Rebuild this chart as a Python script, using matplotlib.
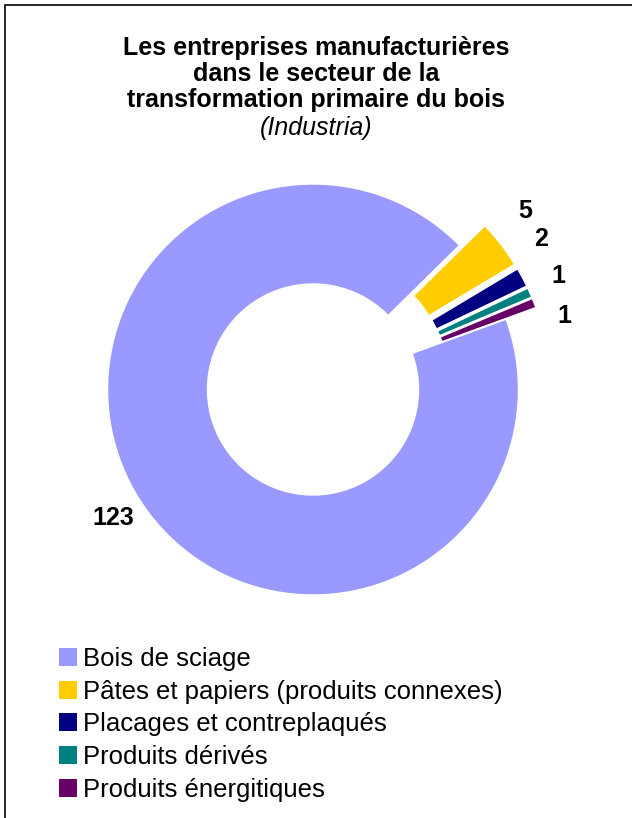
import matplotlib
matplotlib.use("Agg")
import matplotlib.pyplot as plt
from matplotlib.patches import Rectangle

plt.rcParams['font.family'] = ['Liberation Sans', 'DejaVu Sans']

categories = ["Bois de sciage", "Pâtes et papiers (produits connexes)",
              "Placages et contreplaqués", "Produits dérivés", "Produits énergitiques"]
counts = [123, 5, 2, 1, 1]
colors = ["#9999FF", "#FFCC00", "#000080", "#008080", "#660066"]

W, H = 632, 818
fig = plt.figure(figsize=(W / 100, H / 100), dpi=100)
ax = fig.add_axes([0, 0, 1, 1])

# donut in pixel units (y up); explode offsets are in data units here
cx, cy, R = 313, H - 389.5, 205.5
explode = [0, 32, 32, 32, 32]
wedges, _ = ax.pie(counts, colors=colors, center=(cx, cy), radius=R,
                   startangle=20, counterclock=False, explode=explode,
                   wedgeprops=dict(width=100, edgecolor="white", linewidth=1.0))
ax.set_xlim(0, W)
ax.set_ylim(0, H)
ax.axis("off")

# value labels (pixel positions)
label_px = [(113, 518), (525, 211), (541, 239), (558, 276), (564, 316)]
for (x, y), n in zip(label_px, counts):
    ax.text(x, H - y, str(n), ha="center", va="center",
            fontsize=18, fontweight="bold")

# title
fig.text(0.5, 1 - 74 / H,
         "Les entreprises manufacturières\ndans le secteur de la\ntransformation primaire du bois",
         ha="center", va="center", fontsize=18, fontweight="bold", linespacing=1.1)
fig.text(0.5, 1 - 128 / H, "(Industria)", ha="center", va="center",
         fontsize=18, style="italic")

# legend
handles = [Rectangle((0, 0), 1, 1, facecolor=c, edgecolor="none") for c in colors]
fig.legend(handles, categories, loc="upper left",
           bbox_to_anchor=(59 / W, 1 - 647 / H), frameon=False,
           fontsize=18.5, handlelength=0.7, handleheight=0.7,
           handletextpad=0.25, labelspacing=0.34, borderaxespad=0,
           borderpad=0)

# chart-area border (top and left edges visible)
fig.add_artist(Rectangle((4.5 / W, -0.1), 2, 1 - 5 / H + 0.1,
                         transform=fig.transFigure, fill=False,
                         edgecolor="black", linewidth=1.2))

fig.savefig("out.png", dpi=100)
